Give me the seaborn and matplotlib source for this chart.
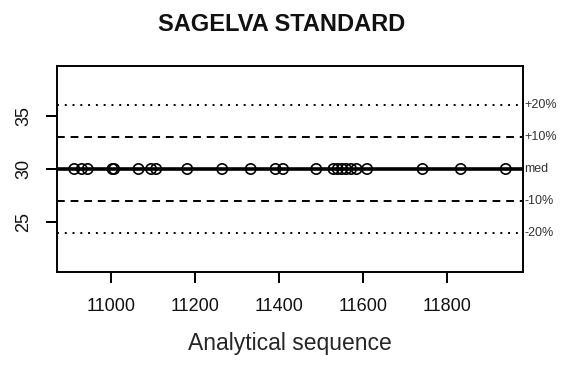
import numpy as np
import pandas as pd
import matplotlib
matplotlib.use("Agg")
import matplotlib.pyplot as plt
from matplotlib.ticker import MultipleLocator
import seaborn as sns

# analytical sequence numbers of the standard runs
sequence = [10913, 10931, 10945, 11004, 11008, 11066, 11096, 11108, 11182,
            11265, 11333, 11392, 11410, 11489, 11530, 11540, 11550, 11560,
            11572, 11585, 11610, 11742, 11833, 11940]
# measured values (all on the median)
values = [30.0] * len(sequence)

ref_labels = ["+20%", "+10%", "med", "-10%", "-20%"]
ref_factors = [1.2, 1.1, 1.0, 0.9, 0.8]

df = pd.DataFrame({"seq": sequence, "value": values})
med = df["value"].median()

sns.set_style("ticks")
plt.rcParams["font.family"] = ["Liberation Sans", "DejaVu Sans"]
plt.rcParams["text.color"] = "#111111"
plt.rcParams["xtick.color"] = "black"
plt.rcParams["ytick.color"] = "black"
plt.rcParams["xtick.labelcolor"] = "#111111"
plt.rcParams["ytick.labelcolor"] = "#111111"

fig = plt.figure(figsize=(5.63, 3.67), dpi=100)
ax = fig.add_axes([57 / 563, 1 - 272 / 367, 466 / 563, 206 / 367])

# reference lines
styles = {1.2: (0, (1, 3)), 1.1: (0, (4, 3)), 1.0: "-", 0.9: (0, (4, 3)), 0.8: (0, (1, 3))}
for f in ref_factors:
    lw = 2.6 if f == 1.0 else 1.4
    ax.axhline(med * f, color="black", lw=lw, linestyle=styles[f], zorder=1)

sns.scatterplot(data=df, x="seq", y="value", ax=ax, marker="o", s=55,
                facecolor="none", edgecolor="black", linewidth=1.2, zorder=3)

span = max(sequence) - min(sequence)
ax.set_xlim(min(sequence) - 0.04 * span, max(sequence) + 0.04 * span)
ylo, yhi = med * 0.7, med * 1.3
ax.set_ylim(ylo - 0.04 * (yhi - ylo), yhi + 0.04 * (yhi - ylo))

ax.xaxis.set_major_locator(MultipleLocator(200))
ax.yaxis.set_major_locator(MultipleLocator(5))
ax.tick_params(axis="both", which="major", direction="out", length=8, width=1.4,
               labelsize=13)
ax.tick_params(axis="x", pad=11)
ax.tick_params(axis="y", pad=10, labelrotation=90)
for lab in ax.get_yticklabels():
    lab.set_va("center")

# tick marks drawn as plain lines (the axis tick markers did not render)
x0, x1 = ax.get_xlim()
for xv in ax.get_xticks():
    if x0 <= xv <= x1:
        ax.plot([xv, xv], [0, -0.05], transform=ax.get_xaxis_transform(),
                color="black", lw=1.4, clip_on=False, solid_capstyle="butt")
y0, y1 = ax.get_ylim()
for yv in ax.get_yticks():
    if y0 <= yv <= y1:
        ax.plot([0, -0.022], [yv, yv], transform=ax.get_yaxis_transform(),
                color="black", lw=1.4, clip_on=False, solid_capstyle="butt")

for f, lab in zip(ref_factors, ref_labels):
    ax.text(1.003, med * f, lab, transform=ax.get_yaxis_transform(),
            ha="left", va="center", fontsize=9, color="#333333")

for sp in ax.spines.values():
    sp.set_visible(True)
    sp.set_color("black")
    sp.set_linewidth(1.4)

ax.set_xlabel("Analytical sequence", fontsize=16.5, labelpad=12)
ax.set_ylabel("")
fig.suptitle("SAGELVA STANDARD", fontsize=17, fontweight="bold", y=0.965)

fig.savefig("out.png", dpi=100)
